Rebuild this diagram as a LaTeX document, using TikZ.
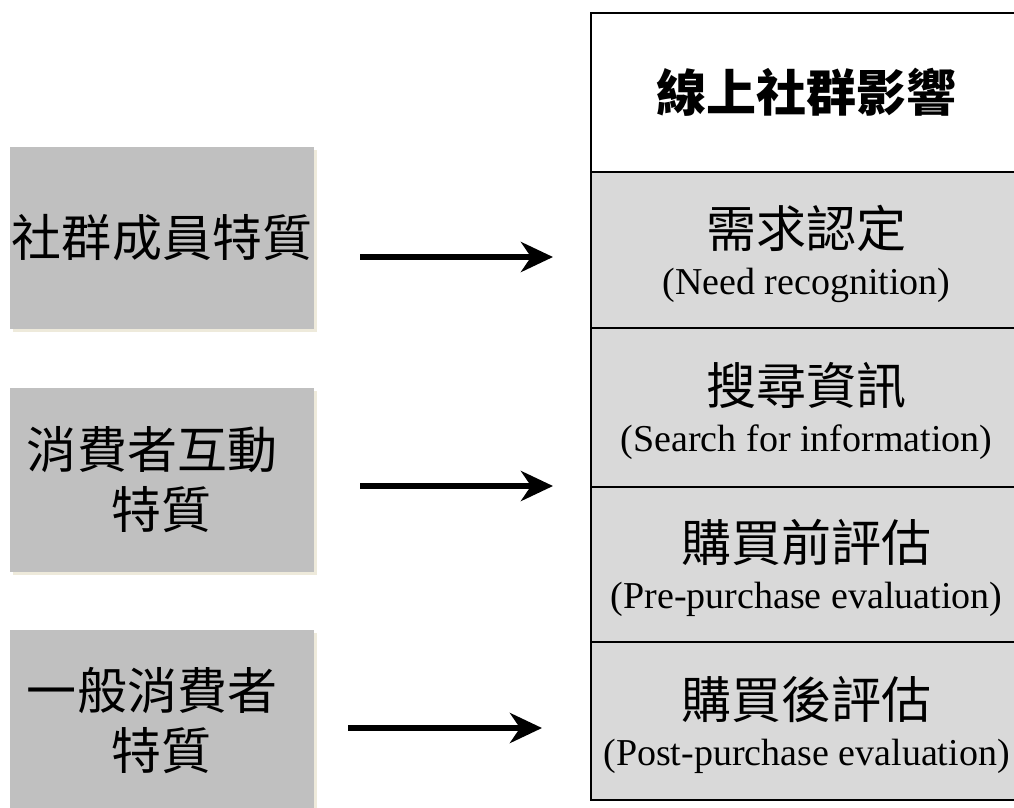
\documentclass[tikz,border=0pt]{standalone}
\usepackage{fontspec}
\setmainfont{Liberation Serif}
\newfontfamily\cjk{Noto Sans CJK TC}
\usetikzlibrary{arrows.meta,calc}
\definecolor{leftgray}{HTML}{C0C0C0}
\definecolor{cellgray}{HTML}{D9D9D9}
\definecolor{shadowc}{HTML}{EEEADB}
\tikzset{
  leftbox/.style={fill=leftgray, draw=none, minimum width=304pt, inner sep=0pt, align=center,
    font=\cjk\fontsize{50}{60}\selectfont},
  lshadow/.style={fill=shadowc, draw=none},
  cellbox/.style={draw=black, line width=1.6pt, minimum width=431pt, inner sep=0pt},
  cjktext/.style={inner sep=0pt, font=\cjk\fontsize{50}{50}\selectfont},
  entext/.style={inner sep=0pt, font=\fontsize{38}{40}\selectfont},
  bigarrow/.style={line width=6pt, -{Stealth[length=32pt,width=30pt,inset=10pt]}}
}
\begin{document}
\begin{tikzpicture}[x=1pt,y=-1pt]
\useasboundingbox (0,0) rectangle (1014,807);
\clip (0,0) rectangle (1014,807);
\fill[white] (0,0) rectangle (1014,807);
% left boxes with shadows
\fill[lshadow] (13,150) rectangle (317,332);
\fill[lshadow] (13,391) rectangle (317,575);
\fill[lshadow] (13,633) rectangle (317,815);
\node[leftbox, minimum height=182pt] (L1) at (162,238) {社群成員特質};
\node[leftbox, minimum height=184pt] (L2) at (162,480) {\hbox{消費者互動\kern20pt}\\特質};
\node[leftbox, minimum height=182pt] (L3) at (162,721) {\hbox{一般消費者\kern20pt}\\特質};
% right column
\node[cellbox, fill=white, minimum height=159pt] (R0) at (806.5,92.5) {};
\node[cellbox, fill=cellgray, minimum height=156pt] (R1) at (806.5,250) {};
\node[cellbox, fill=cellgray, minimum height=159pt] (R2) at (806.5,407.5) {};
\node[cellbox, fill=cellgray, minimum height=155pt] (R3) at (806.5,564.5) {};
\node[cellbox, fill=cellgray, minimum height=158pt] (R4) at (806.5,721) {};
\node[cjktext, font=\cjk\bfseries\fontsize{50}{50}\selectfont] (R0t) at (R0.center) {線上社群影響};
\node[cjktext] (R1c) at ($(R1.center)+(0,-22)$) {需求認定};
\node[entext] (R1e) at ($(R1.center)+(0,35)$) {(Need recognition)};
\node[cjktext] (R2c) at ($(R2.center)+(0,-22)$) {搜尋資訊};
\node[entext] (R2e) at ($(R2.center)+(0,35)$) {(Search for information)};
\node[cjktext] (R3c) at ($(R3.center)+(0,-22)$) {購買前評估};
\node[entext] (R3e) at ($(R3.center)+(0,35)$) {(Pre-purchase evaluation)};
\node[cjktext] (R4c) at ($(R4.center)+(0,-22)$) {購買後評估};
\node[entext] (R4e) at ($(R4.center)+(0,35)$) {(Post-purchase evaluation)};
% arrows
\coordinate (a1s) at (360,257);
\coordinate (a1e) at (553,257);
\coordinate (a2s) at (360,486);
\coordinate (a2e) at (553,486);
\coordinate (a3s) at (348,728);
\coordinate (a3e) at (542,728);
\draw[bigarrow] (a1s) -- (a1e);
\draw[bigarrow] (a2s) -- (a2e);
\draw[bigarrow] (a3s) -- (a3e);
\end{tikzpicture}
\end{document}
